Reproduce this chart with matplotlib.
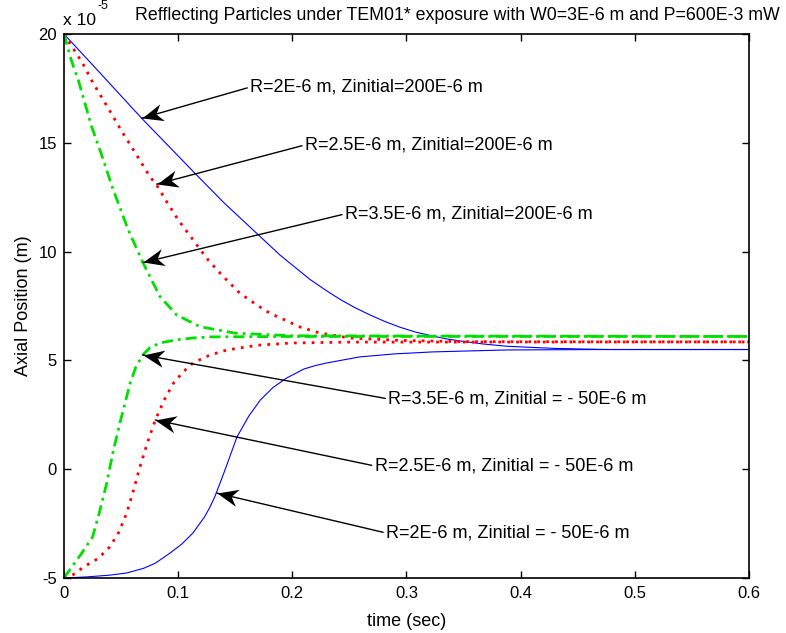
import numpy as np
import matplotlib
matplotlib.use("Agg")
import matplotlib.pyplot as plt
from matplotlib.path import Path
from matplotlib.markers import MarkerStyle
from matplotlib.transforms import Affine2D

plt.rcParams["font.family"] = ["Liberation Sans", "DejaVu Sans"]

# axial position values are in units of 1e-5 m
t_b_top = [0, 0.03, 0.068, 0.1147, 0.14, 0.1688, 0.189, 0.2, 0.2155, 0.23, 0.242, 0.255, 0.268, 0.281, 0.294, 0.308, 0.323, 0.336, 0.35, 0.368, 0.388, 0.43, 0.476, 0.6]
z_b_top = [20, 18.3, 16.13, 13.6, 12.25, 10.84, 9.85, 9.38, 8.72, 8.2, 7.8, 7.42, 7.09, 6.79, 6.53, 6.3, 6.12, 5.98, 5.87, 5.75, 5.65, 5.55, 5.5, 5.5]

t_b_bot = [0, 0.02, 0.04, 0.055, 0.07, 0.08, 0.093, 0.103, 0.113, 0.123, 0.1275, 0.132, 0.137, 0.142, 0.1515, 0.162, 0.172, 0.183, 0.195, 0.21, 0.22, 0.23, 0.259, 0.29, 0.323, 0.388, 0.476, 0.6]
z_b_bot = [-5, -4.95, -4.87, -4.77, -4.55, -4.32, -3.85, -3.45, -2.93, -2.2, -1.78, -1.28, -0.6, 0.1, 1.48, 2.45, 3.18, 3.75, 4.19, 4.6, 4.76, 4.88, 5.16, 5.3, 5.39, 5.48, 5.5, 5.5]

t_r_top = [0, 0.0164, 0.0257, 0.0397, 0.0499, 0.0642, 0.0753, 0.0812, 0.09, 0.1001, 0.1133, 0.125, 0.1396, 0.1542, 0.1688, 0.18, 0.207, 0.224, 0.25, 0.294, 0.35, 0.6]
z_r_top = [20, 18.65, 17.73, 16.51, 15.59, 14.39, 13.44, 13.06, 12.29, 11.45, 10.53, 9.69, 8.85, 8.08, 7.55, 7.18, 6.53, 6.26, 6.03, 5.92, 5.86, 5.85]

t_r_bot = [0, 0.008, 0.017, 0.03, 0.04, 0.048, 0.055, 0.061, 0.0665, 0.073, 0.08, 0.088, 0.096, 0.105, 0.113, 0.128, 0.143, 0.17, 0.2, 0.25, 0.6]
z_r_bot = [-5, -4.85, -4.5, -4.1, -3.58, -2.9, -2.01, -0.95, 0.1, 1.2, 2.26, 3.2, 3.96, 4.5, 4.88, 5.25, 5.48, 5.7, 5.8, 5.84, 5.85]

t_g_top = [0, 0.0067, 0.0125, 0.0184, 0.0242, 0.0315, 0.0432, 0.0563, 0.0695, 0.0841, 0.0987, 0.1191, 0.15, 0.2, 0.6]
z_g_top = [20, 18.75, 17.89, 16.81, 15.74, 14.67, 12.83, 11.0, 9.46, 7.93, 7.09, 6.55, 6.25, 6.13, 6.1]

t_g_bot = [0, 0.005, 0.015, 0.025, 0.031, 0.0375, 0.043, 0.049, 0.058, 0.063, 0.069, 0.075, 0.084, 0.099, 0.113, 0.128, 0.2, 0.6]
z_g_bot = [-5, -4.63, -3.9, -3.12, -2.0, -0.63, 0.8, 2.12, 3.96, 4.7, 5.25, 5.57, 5.8, 5.95, 6.03, 6.08, 6.1, 6.1]

labels = [
    "R=2E-6 m, Zinitial=200E-6 m",
    "R=2.5E-6 m, Zinitial=200E-6 m",
    "R=3.5E-6 m, Zinitial=200E-6 m",
    "R=3.5E-6 m, Zinitial = - 50E-6 m",
    "R=2.5E-6 m, Zinitial = - 50E-6 m",
    "R=2E-6 m, Zinitial = - 50E-6 m",
]
tips = [(0.068, 16.13), (0.0812, 13.1), (0.0695, 9.5), (0.069, 5.25), (0.08, 2.26), (0.134, -1.1)]
text_pos = [(0.163, 17.56), (0.211, 14.9), (0.246, 11.73), (0.284, 3.23), (0.272, 0.15), (0.282, -2.93)]

# concave arrow head (tip at origin, pointing along +x)
head = Path([(0, 0), (-18, 7.5), (-12.5, 0), (-18, -7.5), (0, 0)],
            [Path.MOVETO, Path.LINETO, Path.LINETO, Path.LINETO, Path.CLOSEPOLY])

fig = plt.figure(figsize=(7.86, 6.33), dpi=100)
ax = fig.add_axes([0.0814, 0.0869, 0.8715, 0.8594])
ax.set_xlim(0, 0.6)
ax.set_ylim(-5, 20)

dots = (0, (1, 2.2))
dashdot = (0, (4, 1.8, 1, 1.8))
ax.plot(t_b_top, z_b_top, color="blue", lw=0.8)
ax.plot(t_b_bot, z_b_bot, color="blue", lw=0.8)
ax.plot(t_r_top, z_r_top, color="red", lw=2, linestyle=dots)
ax.plot(t_r_bot, z_r_bot, color="red", lw=2, linestyle=dots)
ax.plot(t_g_top, z_g_top, color="#00e000", lw=2, linestyle=dashdot)
ax.plot(t_g_bot, z_g_bot, color="#00e000", lw=2, linestyle=dashdot)

for lab, tip, pos in zip(labels, tips, text_pos):
    ax.annotate(lab, xy=tip, xytext=pos, ha="left", va="center", fontsize=13,
                arrowprops=dict(arrowstyle="-", color="black", lw=1,
                                shrinkA=0, shrinkB=0, relpos=(0, 0.5)))
    p0 = ax.transData.transform(pos)
    p1 = ax.transData.transform(tip)
    ang = np.degrees(np.arctan2(p1[1] - p0[1], p1[0] - p0[0]))
    m = MarkerStyle(head, transform=Affine2D().rotate_deg(ang))
    ax.plot(tip[0], tip[1], marker=m, markersize=30, color="black",
            markeredgewidth=0, linestyle="none")

ax.set_xticks([0, 0.1, 0.2, 0.3, 0.4, 0.5, 0.6])
ax.set_xticklabels(["0", "0.1", "0.2", "0.3", "0.4", "0.5", "0.6"])
ax.set_yticks([-5, 0, 5, 10, 15, 20])
ax.set_yticklabels(["-5", "0", "5", "10", "15", "20"])
ax.tick_params(direction="in", top=True, right=True, labelsize=12, length=5, width=1)
ax.tick_params(axis="x", pad=6)
ax.tick_params(axis="y", pad=5)
for s in ax.spines.values():
    s.set_linewidth(1.2)

ax.set_xlabel("time (sec)", fontsize=13)
ax.set_ylabel("Axial Position (m)", fontsize=13)
ax.xaxis.set_label_coords(0.5, -0.064)
ax.yaxis.set_label_coords(-0.046, 0.5)

fig.text(0.5814, 0.975, "Refflecting Particles under TEM01* exposure with W0=3E-6 m and P=600E-3 mW",
         ha="center", va="center", fontsize=12.8)
fig.text(0.080, 0.968, "x 10", ha="left", va="center", fontsize=12.5)
fig.text(0.1245, 0.99, "-5", ha="left", va="center", fontsize=9)

fig.savefig("out.png", dpi=100)
